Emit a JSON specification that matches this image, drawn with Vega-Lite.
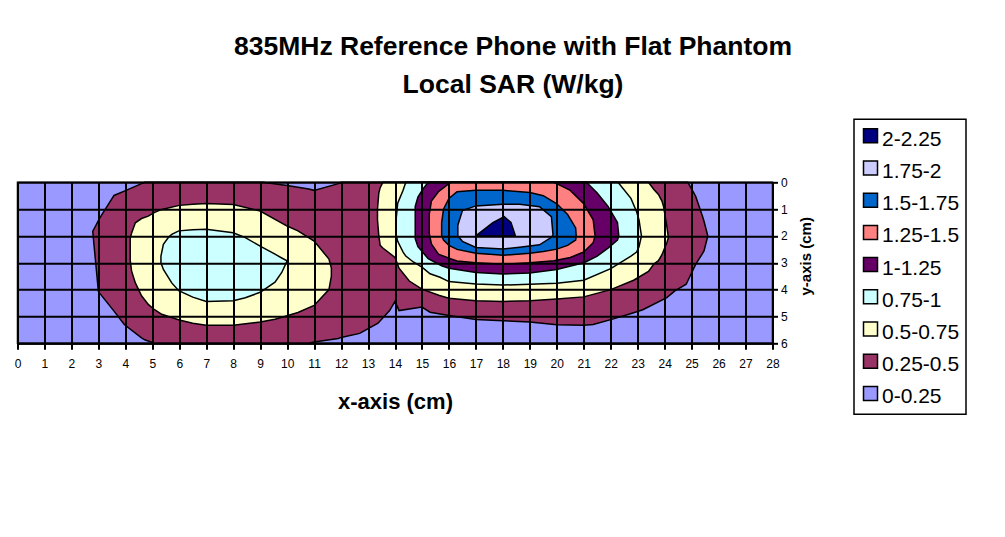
{
  "$schema": "https://vega.github.io/schema/vega-lite/v6.json",
  "width": 755,
  "height": 161,
  "autosize": {"type": "none"},
  "padding": {"left": 17.5, "top": 182.3, "right": 232.5, "bottom": 193.7},
  "background": "white",
  "config": {"view": {"stroke": null}, "font": "Liberation Sans"},
  "title": {
    "text": ["835MHz Reference Phone with Flat Phantom", "Local SAR (W/kg)"],
    "font": "Liberation Sans",
    "fontSize": 26.5,
    "fontWeight": "bold",
    "color": "black",
    "anchor": "middle",
    "dx": 118,
    "lineHeight": 38,
    "offset": 20
  },
  "data": {
    "values": [
      {"band": "0-0.25", "blob": "bg", "x": 0, "ytop": 0, "ybot": 6},
      {"band": "0-0.25", "blob": "bg", "x": 28, "ytop": 0, "ybot": 6},

      {"band": "0.25-0.5", "blob": "m", "x": 2.79, "ytop": 1.83, "ybot": 1.83},
      {"band": "0.25-0.5", "blob": "m", "x": 2.9, "ytop": 1.62, "ybot": 3.0},
      {"band": "0.25-0.5", "blob": "m", "x": 3.0, "ytop": 1.43, "ybot": 4.07},
      {"band": "0.25-0.5", "blob": "m", "x": 3.06, "ytop": 1.32, "ybot": 4.15},
      {"band": "0.25-0.5", "blob": "m", "x": 3.58, "ytop": 0.49, "ybot": 4.8},
      {"band": "0.25-0.5", "blob": "m", "x": 3.96, "ytop": 0.33, "ybot": 5.3},
      {"band": "0.25-0.5", "blob": "m", "x": 4.6, "ytop": 0.05, "ybot": 5.8},
      {"band": "0.25-0.5", "blob": "m", "x": 4.72, "ytop": 0, "ybot": 5.87},
      {"band": "0.25-0.5", "blob": "m", "x": 5.07, "ytop": 0, "ybot": 6},
      {"band": "0.25-0.5", "blob": "m", "x": 9.1, "ytop": 0, "ybot": 6},
      {"band": "0.25-0.5", "blob": "m", "x": 10, "ytop": 0.12, "ybot": 6},
      {"band": "0.25-0.5", "blob": "m", "x": 10.8, "ytop": 0.25, "ybot": 6},
      {"band": "0.25-0.5", "blob": "m", "x": 11, "ytop": 0.3, "ybot": 5.95},
      {"band": "0.25-0.5", "blob": "m", "x": 11.9, "ytop": 0.05, "ybot": 5.82},
      {"band": "0.25-0.5", "blob": "m", "x": 12, "ytop": 0, "ybot": 5.78},
      {"band": "0.25-0.5", "blob": "m", "x": 12.69, "ytop": 0, "ybot": 5.63},
      {"band": "0.25-0.5", "blob": "m", "x": 13.37, "ytop": 0, "ybot": 5.25},
      {"band": "0.25-0.5", "blob": "m", "x": 13.8, "ytop": 0, "ybot": 4.78},
      {"band": "0.25-0.5", "blob": "m", "x": 14.0, "ytop": 0, "ybot": 4.44},
      {"band": "0.25-0.5", "blob": "m", "x": 14.15, "ytop": 0, "ybot": 4.78},
      {"band": "0.25-0.5", "blob": "m", "x": 15, "ytop": 0, "ybot": 4.65},
      {"band": "0.25-0.5", "blob": "m", "x": 15.3, "ytop": 0, "ybot": 4.84},
      {"band": "0.25-0.5", "blob": "m", "x": 16, "ytop": 0, "ybot": 4.96},
      {"band": "0.25-0.5", "blob": "m", "x": 17, "ytop": 0, "ybot": 5.11},
      {"band": "0.25-0.5", "blob": "m", "x": 18, "ytop": 0, "ybot": 5.16},
      {"band": "0.25-0.5", "blob": "m", "x": 19, "ytop": 0, "ybot": 5.21},
      {"band": "0.25-0.5", "blob": "m", "x": 20, "ytop": 0, "ybot": 5.31},
      {"band": "0.25-0.5", "blob": "m", "x": 21, "ytop": 0, "ybot": 5.33},
      {"band": "0.25-0.5", "blob": "m", "x": 21.35, "ytop": 0, "ybot": 5.3},
      {"band": "0.25-0.5", "blob": "m", "x": 22.1, "ytop": 0, "ybot": 5.09},
      {"band": "0.25-0.5", "blob": "m", "x": 22.88, "ytop": 0, "ybot": 4.85},
      {"band": "0.25-0.5", "blob": "m", "x": 23.19, "ytop": 0, "ybot": 4.75},
      {"band": "0.25-0.5", "blob": "m", "x": 24.08, "ytop": 0, "ybot": 4.3},
      {"band": "0.25-0.5", "blob": "m", "x": 24.38, "ytop": 0, "ybot": 4.05},
      {"band": "0.25-0.5", "blob": "m", "x": 24.8, "ytop": 0, "ybot": 3.8},
      {"band": "0.25-0.5", "blob": "m", "x": 24.86, "ytop": 0, "ybot": 3.67},
      {"band": "0.25-0.5", "blob": "m", "x": 25.15, "ytop": 0.52, "ybot": 3.06},
      {"band": "0.25-0.5", "blob": "m", "x": 25.4, "ytop": 1.26, "ybot": 2.66},
      {"band": "0.25-0.5", "blob": "m", "x": 25.46, "ytop": 1.45, "ybot": 2.56},
      {"band": "0.25-0.5", "blob": "m", "x": 25.6, "ytop": 2, "ybot": 2},

      {"band": "0.5-0.75", "blob": "L", "x": 4.18, "ytop": 2.1, "ybot": 2.9},
      {"band": "0.5-0.75", "blob": "L", "x": 4.23, "ytop": 1.9, "ybot": 3.3},
      {"band": "0.5-0.75", "blob": "L", "x": 4.37, "ytop": 1.51, "ybot": 3.75},
      {"band": "0.5-0.75", "blob": "L", "x": 4.6, "ytop": 1.35, "ybot": 4.23},
      {"band": "0.5-0.75", "blob": "L", "x": 4.85, "ytop": 1.26, "ybot": 4.55},
      {"band": "0.5-0.75", "blob": "L", "x": 5.07, "ytop": 1.13, "ybot": 4.74},
      {"band": "0.5-0.75", "blob": "L", "x": 5.35, "ytop": 1.01, "ybot": 4.92},
      {"band": "0.5-0.75", "blob": "L", "x": 6, "ytop": 0.86, "ybot": 5.13},
      {"band": "0.5-0.75", "blob": "L", "x": 6.5, "ytop": 0.82, "ybot": 5.25},
      {"band": "0.5-0.75", "blob": "L", "x": 7, "ytop": 0.79, "ybot": 5.33},
      {"band": "0.5-0.75", "blob": "L", "x": 8, "ytop": 0.83, "ybot": 5.33},
      {"band": "0.5-0.75", "blob": "L", "x": 9, "ytop": 1.07, "ybot": 5.21},
      {"band": "0.5-0.75", "blob": "L", "x": 9.55, "ytop": 1.38, "ybot": 5.1},
      {"band": "0.5-0.75", "blob": "L", "x": 10, "ytop": 1.63, "ybot": 4.97},
      {"band": "0.5-0.75", "blob": "L", "x": 10.4, "ytop": 1.81, "ybot": 4.85},
      {"band": "0.5-0.75", "blob": "L", "x": 11, "ytop": 2.19, "ybot": 4.59},
      {"band": "0.5-0.75", "blob": "L", "x": 11.55, "ytop": 2.86, "ybot": 4.0},
      {"band": "0.5-0.75", "blob": "L", "x": 11.64, "ytop": 3.2, "ybot": 3.5},

      {"band": "0.5-0.75", "blob": "R", "x": 13.35, "ytop": 1.0, "ybot": 1.4},
      {"band": "0.5-0.75", "blob": "R", "x": 13.4, "ytop": 0.4, "ybot": 2.0},
      {"band": "0.5-0.75", "blob": "R", "x": 13.45, "ytop": 0.2, "ybot": 2.35},
      {"band": "0.5-0.75", "blob": "R", "x": 13.55, "ytop": 0, "ybot": 2.45},
      {"band": "0.5-0.75", "blob": "R", "x": 14.0, "ytop": 0, "ybot": 2.8},
      {"band": "0.5-0.75", "blob": "R", "x": 14.15, "ytop": 0, "ybot": 3.2},
      {"band": "0.5-0.75", "blob": "R", "x": 14.53, "ytop": 0, "ybot": 3.68},
      {"band": "0.5-0.75", "blob": "R", "x": 15, "ytop": 0, "ybot": 3.98},
      {"band": "0.5-0.75", "blob": "R", "x": 15.65, "ytop": 0, "ybot": 4.22},
      {"band": "0.5-0.75", "blob": "R", "x": 16, "ytop": 0, "ybot": 4.32},
      {"band": "0.5-0.75", "blob": "R", "x": 17, "ytop": 0, "ybot": 4.41},
      {"band": "0.5-0.75", "blob": "R", "x": 18, "ytop": 0, "ybot": 4.44},
      {"band": "0.5-0.75", "blob": "R", "x": 19, "ytop": 0, "ybot": 4.41},
      {"band": "0.5-0.75", "blob": "R", "x": 20, "ytop": 0, "ybot": 4.35},
      {"band": "0.5-0.75", "blob": "R", "x": 21, "ytop": 0, "ybot": 4.27},
      {"band": "0.5-0.75", "blob": "R", "x": 22, "ytop": 0, "ybot": 4.0},
      {"band": "0.5-0.75", "blob": "R", "x": 22.85, "ytop": 0, "ybot": 3.65},
      {"band": "0.5-0.75", "blob": "R", "x": 23.4, "ytop": 0, "ybot": 3.32},
      {"band": "0.5-0.75", "blob": "R", "x": 23.6, "ytop": 0.27, "ybot": 3.05},
      {"band": "0.5-0.75", "blob": "R", "x": 23.77, "ytop": 0.45, "ybot": 2.92},
      {"band": "0.5-0.75", "blob": "R", "x": 23.9, "ytop": 0.7, "ybot": 2.7},
      {"band": "0.5-0.75", "blob": "R", "x": 23.96, "ytop": 0.9, "ybot": 2.55},
      {"band": "0.5-0.75", "blob": "R", "x": 24.08, "ytop": 1.63, "ybot": 2.25},
      {"band": "0.5-0.75", "blob": "R", "x": 24.14, "ytop": 2.06, "ybot": 2.06},

      {"band": "0.75-1", "blob": "L", "x": 5.32, "ytop": 2.75, "ybot": 3.0},
      {"band": "0.75-1", "blob": "L", "x": 5.41, "ytop": 2.31, "ybot": 3.25},
      {"band": "0.75-1", "blob": "L", "x": 5.6, "ytop": 2.05, "ybot": 3.55},
      {"band": "0.75-1", "blob": "L", "x": 5.72, "ytop": 1.94, "ybot": 3.75},
      {"band": "0.75-1", "blob": "L", "x": 5.98, "ytop": 1.81, "ybot": 4.04},
      {"band": "0.75-1", "blob": "L", "x": 6.5, "ytop": 1.77, "ybot": 4.28},
      {"band": "0.75-1", "blob": "L", "x": 7, "ytop": 1.75, "ybot": 4.44},
      {"band": "0.75-1", "blob": "L", "x": 8, "ytop": 1.88, "ybot": 4.41},
      {"band": "0.75-1", "blob": "L", "x": 8.45, "ytop": 2.06, "ybot": 4.3},
      {"band": "0.75-1", "blob": "L", "x": 9, "ytop": 2.38, "ybot": 4.1},
      {"band": "0.75-1", "blob": "L", "x": 9.55, "ytop": 2.68, "ybot": 3.72},
      {"band": "0.75-1", "blob": "L", "x": 9.8, "ytop": 2.82, "ybot": 3.36},
      {"band": "0.75-1", "blob": "L", "x": 10, "ytop": 2.93, "ybot": 2.93},

      {"band": "0.75-1", "blob": "R", "x": 14.03, "ytop": 1.5, "ybot": 1.9},
      {"band": "0.75-1", "blob": "R", "x": 14.1, "ytop": 0.78, "ybot": 2.2},
      {"band": "0.75-1", "blob": "R", "x": 14.3, "ytop": 0.3, "ybot": 2.6},
      {"band": "0.75-1", "blob": "R", "x": 14.4, "ytop": 0, "ybot": 2.75},
      {"band": "0.75-1", "blob": "R", "x": 14.68, "ytop": 0, "ybot": 2.97},
      {"band": "0.75-1", "blob": "R", "x": 15, "ytop": 0, "ybot": 3.16},
      {"band": "0.75-1", "blob": "R", "x": 15.3, "ytop": 0, "ybot": 3.41},
      {"band": "0.75-1", "blob": "R", "x": 15.67, "ytop": 0, "ybot": 3.54},
      {"band": "0.75-1", "blob": "R", "x": 16, "ytop": 0, "ybot": 3.7},
      {"band": "0.75-1", "blob": "R", "x": 17, "ytop": 0, "ybot": 3.79},
      {"band": "0.75-1", "blob": "R", "x": 18, "ytop": 0, "ybot": 3.83},
      {"band": "0.75-1", "blob": "R", "x": 19, "ytop": 0, "ybot": 3.8},
      {"band": "0.75-1", "blob": "R", "x": 20, "ytop": 0, "ybot": 3.76},
      {"band": "0.75-1", "blob": "R", "x": 21, "ytop": 0, "ybot": 3.65},
      {"band": "0.75-1", "blob": "R", "x": 22, "ytop": 0, "ybot": 3.22},
      {"band": "0.75-1", "blob": "R", "x": 22.27, "ytop": 0, "ybot": 3.05},
      {"band": "0.75-1", "blob": "R", "x": 22.75, "ytop": 0.6, "ybot": 2.75},
      {"band": "0.75-1", "blob": "R", "x": 22.96, "ytop": 1.1, "ybot": 2.6},
      {"band": "0.75-1", "blob": "R", "x": 23.05, "ytop": 1.4, "ybot": 2.4},
      {"band": "0.75-1", "blob": "R", "x": 23.14, "ytop": 2.0, "ybot": 2.0},

      {"band": "1-1.25", "blob": "R", "x": 14.75, "ytop": 0.9, "ybot": 2.1},
      {"band": "1-1.25", "blob": "R", "x": 14.85, "ytop": 0.55, "ybot": 2.4},
      {"band": "1-1.25", "blob": "R", "x": 15.04, "ytop": 0.25, "ybot": 2.62},
      {"band": "1-1.25", "blob": "R", "x": 15.23, "ytop": 0, "ybot": 2.85},
      {"band": "1-1.25", "blob": "R", "x": 15.73, "ytop": 0, "ybot": 3.11},
      {"band": "1-1.25", "blob": "R", "x": 16, "ytop": 0, "ybot": 3.2},
      {"band": "1-1.25", "blob": "R", "x": 17, "ytop": 0, "ybot": 3.36},
      {"band": "1-1.25", "blob": "R", "x": 18, "ytop": 0, "ybot": 3.42},
      {"band": "1-1.25", "blob": "R", "x": 19, "ytop": 0, "ybot": 3.38},
      {"band": "1-1.25", "blob": "R", "x": 20, "ytop": 0, "ybot": 3.25},
      {"band": "1-1.25", "blob": "R", "x": 21, "ytop": 0, "ybot": 3.0},
      {"band": "1-1.25", "blob": "R", "x": 21.1, "ytop": 0, "ybot": 2.95},
      {"band": "1-1.25", "blob": "R", "x": 21.5, "ytop": 0.4, "ybot": 2.75},
      {"band": "1-1.25", "blob": "R", "x": 21.9, "ytop": 0.9, "ybot": 2.45},
      {"band": "1-1.25", "blob": "R", "x": 22.25, "ytop": 1.5, "ybot": 2.15},
      {"band": "1-1.25", "blob": "R", "x": 22.3, "ytop": 2.0, "ybot": 2.0},

      {"band": "1.25-1.5", "blob": "R", "x": 15.27, "ytop": 1.2, "ybot": 1.9},
      {"band": "1.25-1.5", "blob": "R", "x": 15.35, "ytop": 0.7, "ybot": 2.3},
      {"band": "1.25-1.5", "blob": "R", "x": 15.61, "ytop": 0.35, "ybot": 2.68},
      {"band": "1.25-1.5", "blob": "R", "x": 16.06, "ytop": 0, "ybot": 2.85},
      {"band": "1.25-1.5", "blob": "R", "x": 16.3, "ytop": 0, "ybot": 2.93},
      {"band": "1.25-1.5", "blob": "R", "x": 17, "ytop": 0, "ybot": 3.0},
      {"band": "1.25-1.5", "blob": "R", "x": 18, "ytop": 0, "ybot": 3.05},
      {"band": "1.25-1.5", "blob": "R", "x": 19, "ytop": 0, "ybot": 3.0},
      {"band": "1.25-1.5", "blob": "R", "x": 19.9, "ytop": 0, "ybot": 2.92},
      {"band": "1.25-1.5", "blob": "R", "x": 20.5, "ytop": 0.3, "ybot": 2.8},
      {"band": "1.25-1.5", "blob": "R", "x": 21.0, "ytop": 0.8, "ybot": 2.6},
      {"band": "1.25-1.5", "blob": "R", "x": 21.35, "ytop": 1.4, "ybot": 2.25},
      {"band": "1.25-1.5", "blob": "R", "x": 21.42, "ytop": 2.0, "ybot": 2.0},

      {"band": "1.5-1.75", "blob": "R", "x": 15.73, "ytop": 1.5, "ybot": 1.98},
      {"band": "1.5-1.75", "blob": "R", "x": 15.8, "ytop": 1.0, "ybot": 2.15},
      {"band": "1.5-1.75", "blob": "R", "x": 16.0, "ytop": 0.6, "ybot": 2.35},
      {"band": "1.5-1.75", "blob": "R", "x": 16.3, "ytop": 0.35, "ybot": 2.5},
      {"band": "1.5-1.75", "blob": "R", "x": 17, "ytop": 0.3, "ybot": 2.64},
      {"band": "1.5-1.75", "blob": "R", "x": 18, "ytop": 0.3, "ybot": 2.72},
      {"band": "1.5-1.75", "blob": "R", "x": 19, "ytop": 0.38, "ybot": 2.64},
      {"band": "1.5-1.75", "blob": "R", "x": 19.5, "ytop": 0.5, "ybot": 2.58},
      {"band": "1.5-1.75", "blob": "R", "x": 20, "ytop": 0.8, "ybot": 2.49},
      {"band": "1.5-1.75", "blob": "R", "x": 20.4, "ytop": 1.2, "ybot": 2.35},
      {"band": "1.5-1.75", "blob": "R", "x": 20.7, "ytop": 1.7, "ybot": 2.15},
      {"band": "1.5-1.75", "blob": "R", "x": 20.72, "ytop": 2.0, "ybot": 2.0},

      {"band": "1.75-2", "blob": "R", "x": 16.33, "ytop": 1.6, "ybot": 2.0},
      {"band": "1.75-2", "blob": "R", "x": 16.5, "ytop": 1.05, "ybot": 2.2},
      {"band": "1.75-2", "blob": "R", "x": 17, "ytop": 0.88, "ybot": 2.43},
      {"band": "1.75-2", "blob": "R", "x": 18, "ytop": 0.82, "ybot": 2.49},
      {"band": "1.75-2", "blob": "R", "x": 18.62, "ytop": 0.82, "ybot": 2.42},
      {"band": "1.75-2", "blob": "R", "x": 19.36, "ytop": 0.91, "ybot": 2.33},
      {"band": "1.75-2", "blob": "R", "x": 19.8, "ytop": 1.28, "ybot": 2.05},
      {"band": "1.75-2", "blob": "R", "x": 19.86, "ytop": 1.96, "ybot": 1.96},

      {"band": "2-2.25", "blob": "R", "x": 17.02, "ytop": 1.98, "ybot": 2.0},
      {"band": "2-2.25", "blob": "R", "x": 17.63, "ytop": 1.5, "ybot": 2.0},
      {"band": "2-2.25", "blob": "R", "x": 18.05, "ytop": 1.28, "ybot": 2.0},
      {"band": "2-2.25", "blob": "R", "x": 18.3, "ytop": 1.5, "ybot": 2.0},
      {"band": "2-2.25", "blob": "R", "x": 18.46, "ytop": 1.98, "ybot": 2.0}
    ]
  },
  "encoding": {
    "x": {
      "field": "x",
      "type": "quantitative",
      "scale": {"domain": [0, 28], "nice": false, "zero": false},
      "axis": {
        "title": "x-axis (cm)",
        "values": [0,1,2,3,4,5,6,7,8,9,10,11,12,13,14,15,16,17,18,19,20,21,22,23,24,25,26,27,28],
        "format": "d",
        "grid": true, "gridColor": "black", "gridWidth": 2, "gridOpacity": 1,
        "domainColor": "black", "domainWidth": 2,
        "tickColor": "black", "tickSize": 6, "tickWidth": 2,
        "labelFont": "Liberation Sans", "labelFontSize": 12, "labelColor": "black",
        "labelPadding": 9, "labelFlush": false, "labelOverlap": false,
        "titleFont": "Liberation Sans", "titleFontSize": 22, "titleFontWeight": "bold", "titleColor": "black",
        "titleY": 48, "titleBaseline": "top",
        "zindex": 1
      }
    },
    "y": {
      "field": "ytop",
      "type": "quantitative",
      "stack": null,
      "scale": {"domain": [0, 6], "reverse": true, "nice": false, "zero": false},
      "axis": {
        "orient": "right",
        "title": "y-axis (cm)",
        "values": [0,1,2,3,4,5,6],
        "format": "d",
        "grid": true, "gridColor": "black", "gridWidth": 2, "gridOpacity": 1,
        "domainColor": "black", "domainWidth": 2,
        "tickColor": "black", "tickSize": 5, "tickWidth": 2,
        "labelFont": "Liberation Sans", "labelFontSize": 12, "labelColor": "black",
        "labelPadding": 3, "labelFlush": false, "labelOverlap": false,
        "titleFont": "Liberation Sans", "titleFontSize": 15, "titleFontWeight": "bold", "titleColor": "black",
        "titleAngle": 270, "titleX": 33, "titleY": 73.5, "titleAlign": "center", "titleBaseline": "middle",
        "zindex": 1
      }
    },
    "y2": {"field": "ybot"},
    "detail": {"field": "blob"},
    "color": {
      "field": "band",
      "type": "nominal",
      "scale": {
        "domain": ["2-2.25", "1.75-2", "1.5-1.75", "1.25-1.5", "1-1.25", "0.75-1", "0.5-0.75", "0.25-0.5", "0-0.25"],
        "range": ["#000080", "#CCCCFF", "#0066CC", "#FF8080", "#660066", "#CCFFFF", "#FFFFCC", "#993366", "#9999FF"]
      },
      "legend": {
        "title": null,
        "orient": "none",
        "legendX": 836.5,
        "legendY": -63,
        "direction": "vertical",
        "symbolType": "square",
        "symbolSize": 196,
        "symbolStrokeColor": "black",
        "symbolStrokeWidth": 1.5,
        "symbolOpacity": 1,
        "labelFont": "Liberation Sans",
        "labelFontSize": 21,
        "labelColor": "black",
        "labelOffset": 1,
        "labelLimit": 200,
        "rowPadding": 7.2,
        "padding": 6,
        "strokeColor": "black",
        "fillColor": "white",
        "encode": {
          "legend": {"update": {"strokeWidth": {"value": 1.5}}},
          "labels": {"update": {"dy": {"value": 4}}}
        }
      }
    }
  },
  "layer": [
    {"transform": [{"filter": {"field": "band", "equal": "0-0.25"}}], "mark": {"type": "area", "orient": "vertical", "stroke": "black", "strokeWidth": 1.5, "opacity": 1}},
    {"transform": [{"filter": {"field": "band", "equal": "0.25-0.5"}}], "mark": {"type": "area", "orient": "vertical", "stroke": "black", "strokeWidth": 1.5, "opacity": 1}},
    {"transform": [{"filter": {"field": "band", "equal": "0.5-0.75"}}], "mark": {"type": "area", "orient": "vertical", "stroke": "black", "strokeWidth": 1.5, "opacity": 1}},
    {"transform": [{"filter": {"field": "band", "equal": "0.75-1"}}], "mark": {"type": "area", "orient": "vertical", "stroke": "black", "strokeWidth": 1.5, "opacity": 1}},
    {"transform": [{"filter": {"field": "band", "equal": "1-1.25"}}], "mark": {"type": "area", "orient": "vertical", "stroke": "black", "strokeWidth": 1.5, "opacity": 1}},
    {"transform": [{"filter": {"field": "band", "equal": "1.25-1.5"}}], "mark": {"type": "area", "orient": "vertical", "stroke": "black", "strokeWidth": 1.5, "opacity": 1}},
    {"transform": [{"filter": {"field": "band", "equal": "1.5-1.75"}}], "mark": {"type": "area", "orient": "vertical", "stroke": "black", "strokeWidth": 1.5, "opacity": 1}},
    {"transform": [{"filter": {"field": "band", "equal": "1.75-2"}}], "mark": {"type": "area", "orient": "vertical", "stroke": "black", "strokeWidth": 1.5, "opacity": 1}},
    {"transform": [{"filter": {"field": "band", "equal": "2-2.25"}}], "mark": {"type": "area", "orient": "vertical", "stroke": "black", "strokeWidth": 1.5, "opacity": 1}}
  ]
}
